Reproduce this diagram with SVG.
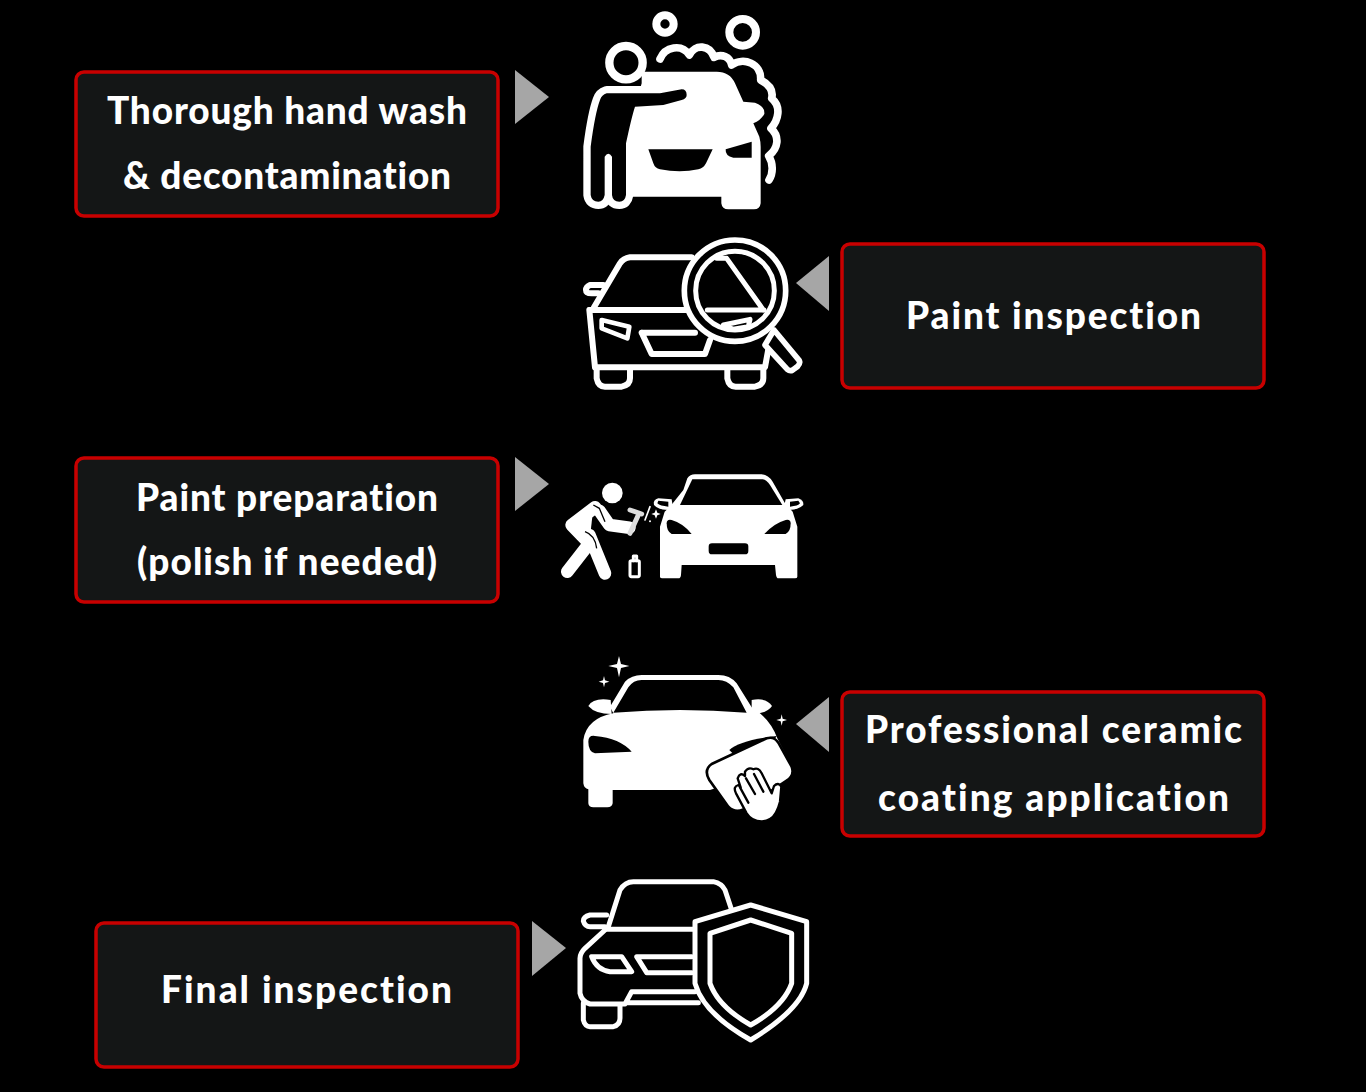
<svg xmlns="http://www.w3.org/2000/svg" width="1366" height="1092" viewBox="0 0 1366 1092">
<style>
.box{fill:#141616;stroke:#c80000;stroke-width:3.5}
.t{font-family:"Lato","Open Sans",sans-serif;font-weight:900;font-size:37px;fill:#fff;font-variant-ligatures:none}
.w{fill:#fff}
.k{fill:#000}
.o{fill:none;stroke:#fff;stroke-linecap:round;stroke-linejoin:round}
.ob{fill:#000;stroke:#fff;stroke-linecap:round;stroke-linejoin:round}
.arrow{fill:#a6a6a6}
</style>
<rect width="1366" height="1092" fill="#000"/>
<g id="connectors">
<polygon class="arrow" points="515,70 515,124 549,97"/>
<polygon class="arrow" points="829,256 829,311 796,283"/>
<polygon class="arrow" points="515,457 515,511 549,484"/>
<polygon class="arrow" points="829,697 829,752 796,724"/>
<polygon class="arrow" points="532,921 532,976 566,948"/>
</g>
<g id="node-wash">
<rect class="box" x="76" y="72" width="422" height="144" rx="8"/>
<text class="t" x="107" y="124" textLength="360">Thorough hand wash</text>
<text class="t" x="123" y="189" textLength="328">&amp; decontamination</text>
</g>
<g id="node-paint-inspection">
<rect class="box" x="842" y="244" width="422" height="144" rx="8"/>
<text class="t" x="906" y="329" textLength="295">Paint inspection</text>
</g>
<g id="node-preparation">
<rect class="box" x="76" y="458" width="422" height="144" rx="8"/>
<text class="t" x="136" y="511" textLength="302">Paint preparation</text>
<text class="t" x="137" y="575" textLength="300">(polish if needed)</text>
</g>
<g id="node-coating">
<rect class="box" x="842" y="692" width="422" height="144" rx="8"/>
<text class="t" x="865" y="743" textLength="377">Professional ceramic</text>
<text class="t" x="878" y="811" textLength="351">coating application</text>
</g>
<g id="node-final">
<rect class="box" x="96" y="923" width="422" height="144" rx="8"/>
<text class="t" x="161" y="1003" textLength="291">Final inspection</text>
</g>
<g id="icon-wash" transform="translate(570 0) scale(.33333)">
<circle class="o" cx="168" cy="188" r="50" stroke-width="25"/>
<circle class="o" cx="285" cy="72" r="26" stroke-width="24"/>
<circle class="o" cx="518" cy="97" r="40" stroke-width="24"/>
<path class="o" stroke-width="23" d="M270,177C285,140 335,130 358,165C375,130 420,135 432,172C455,160 480,170 485,195C520,170 575,190 572,240C600,255 610,275 605,295C635,320 625,360 603,385C630,410 625,445 596,468C610,490 610,520 597,540"/>
<path class="w" d="M215,215L440,215Q480,215 495,250L520,305L555,308Q585,318 583,342Q572,362 550,370L568,410Q572,425 572,440L572,610Q570,628 552,628L475,628Q456,628 454,610L454,590L195,590L165,590L165,430Q175,370 195,320L215,250Z"/>
<path d="M235,448L428,448L408,490Q400,505 385,508Q330,520 270,508Q255,505 250,490Z"/>
<path d="M545,425L545,473L490,473Q465,468 467,448Z"/>
<path d="M110,280L270,280L335,268Q350,268 350,285Q350,296 335,300L280,315L195,320Q185,350 168,430L168,585Q165,605 148,605Q128,605 126,585L126,470Q115,452 104,470L104,585Q100,605 85,605Q65,605 62,585L62,440Q75,340 90,300Q95,285 110,280Z" fill="#000" stroke="#fff" stroke-width="44" stroke-linejoin="round" paint-order="stroke"/>
</g>
<g id="icon-inspect" transform="translate(570 230) scale(.33333)">
<g class="o" stroke-width="18">
<path d="M365,82L180,82Q160,85 150,100L72,232"/>
<path d="M60,240L585,240"/>
<path d="M100,165L60,165Q48,170 48,180Q48,190 65,190L85,190"/>
<path d="M540,172L575,172Q590,180 575,190L555,190"/>
<path d="M58,240L75,412L585,412L600,330"/>
<path d="M80,420L80,445Q85,470 105,470L155,470Q180,465 180,445L180,420"/>
<path d="M472,420L472,445Q477,470 497,470L555,470Q580,465 580,445L580,420"/>
<path stroke-width="14" d="M95,270L178,290L172,325L95,295Z"/>
<path d="M215,308L375,308M420,330L405,372L245,372L215,308"/>
</g>
<path class="ob" stroke-width="17" d="M612,300L688,392Q692,400 682,410L668,420Q660,425 652,418L585,345Z"/>
<circle class="ob" cx="495" cy="182" r="152" stroke-width="17"/>
<circle class="ob" cx="495" cy="182" r="118" stroke-width="15"/>
<path class="o" stroke-width="15" d="M440,85L470,85L580,240M412,240L582,240M460,285L540,268L535,290L490,298Z"/>
</g>
<g id="icon-spray" transform="translate(550 460) scale(.33333)">
<path class="w" d="M400,90L412,55Q420,43 435,43L635,43Q655,45 668,65L705,130L728,155L742,200L742,350Q742,355 735,355L685,355Q680,355 678,345L675,315L395,315L393,345Q392,355 385,355L337,355Q330,355 330,350L330,200L344,155L360,140Z"/>
<path d="M427,58L638,58Q650,60 660,75L697,135L390,135Z"/>
<path class="w" d="M365,118L325,115Q308,120 312,135Q325,150 355,150L370,150Z"/>
<path class="w" d="M707,118L745,115Q762,122 760,135Q745,150 715,150L700,150Z"/>
<path d="M325,122L355,125L355,140Q330,138 322,130Z M745,122L720,125L720,140Q745,138 750,130Z"/>
<path d="M350,190Q350,177 365,180Q400,190 425,222L365,222Q350,215 350,190Z"/>
<path d="M722,190Q722,177 707,180Q672,190 643,222L707,222Q722,215 722,190Z"/>
<rect x="476" y="250" width="119" height="33" rx="10"/>
<circle class="w" cx="187" cy="99" r="31"/>
<path class="w" d="M132,125L65,195L118,250Z"/>
<g class="o" stroke-width="38">
<path d="M135,142L65,195L118,250L52,335"/>
<path d="M118,225L165,340"/>
<path d="M148,152L178,195L238,203"/>
</g>
<path d="M130,135L148,145L165,185" fill="none" stroke="#000" stroke-width="4"/>
<path d="M105,215Q135,225 140,265" fill="none" stroke="#000" stroke-width="4"/>
<g class="o" stroke-width="9">
<rect x="240" y="302" width="28" height="48" rx="4"/>
<path d="M250,302L250,288L260,288L260,302"/>
<path d="M240,150L275,162M265,165L240,220" stroke-width="15" stroke="#ddd"/>
<path d="M300,140L285,180" stroke-width="5"/>
</g>
<path class="w" d="M318,148L322,158L332,162L322,166L318,176L314,166L304,162L314,158Z"/>
<circle class="w" cx="300" cy="184" r="3"/>
</g>
<g id="icon-coat" transform="translate(570 650) scale(.33333)">
<path class="w" d="M120,170L165,95Q185,75 215,75L445,75Q480,75 500,100L545,172Q600,205 622,265L660,340L420,420L128,420L128,460Q126,472 112,472L70,472Q56,472 55,460L55,418Q42,415 40,400L40,270Q50,205 130,190Z"/>
<path d="M130,188L175,112Q190,90 215,90L445,90Q470,90 490,112L530,188Q330,172 130,188Z"/>
<path class="w" d="M122,150Q70,142 55,168Q75,192 125,192Z"/>
<path class="w" d="M545,150Q590,142 606,168Q590,192 545,192Z"/>
<path d="M55,275Q55,255 75,258Q150,265 185,305L75,310Q55,305 55,275Z"/>
<path d="M478,300Q510,270 620,258L600,290L490,312Z"/>
<path class="w" stroke="#000" stroke-width="8" d="M425,342L590,265Q612,258 625,278L665,350Q675,375 650,392L520,478Q495,490 475,470L418,390Q400,360 425,342Z"/>
<path class="w" stroke="#000" stroke-width="7" stroke-linejoin="round" d="M575,514Q545,514 530,490L498,430Q488,410 505,405L512,412L503,385Q510,365 525,378L525,365Q535,350 550,358Q565,350 575,370L605,430L612,408Q625,395 634,410L630,455Q620,495 600,507Q590,514 575,514Z"/>
<path fill="none" stroke="#000" stroke-width="7" stroke-linecap="round" d="M528,385L555,432M552,372L580,425M510,412L535,458"/>
<path class="w" d="M147,18L153,42L178,48L153,54L147,82L141,54L115,48L141,42Z"/>
<path class="w" d="M102,78L105,91L118,95L105,99L102,112L99,99L86,95L99,91Z"/>
<path class="w" d="M635,193L638,206L651,210L638,214L635,227L632,214L619,210L632,206Z"/>
</g>
<g id="icon-final" transform="translate(570 870) scale(.33333)">
<g class="o" stroke-width="15">
<path d="M115,170L150,60Q165,35 190,35L430,35Q455,40 465,60L485,120"/>
<path d="M105,178L370,178"/>
<path d="M110,135L60,135Q40,140 40,153Q45,170 60,170L105,170"/>
<path d="M105,180L45,235Q30,250 30,265L30,370Q35,395 60,402L165,402L185,365L375,365M175,398L385,398"/>
<path d="M40,400L40,450Q45,470 60,470L130,470Q150,465 150,445L150,405"/>
<path d="M65,260L155,260L185,305L120,305Q80,300 65,260Z"/>
<path d="M365,260L200,260L230,308L365,308"/>
</g>
<path class="ob" stroke-width="15" d="M542,105L710,155L710,340Q690,420 542,510Q400,430 375,340L375,155Z"/>
<path class="ob" stroke-width="15" d="M542,150L665,190L665,340Q640,410 542,465Q445,410 420,340L420,190Z"/>
</g>
</svg>
